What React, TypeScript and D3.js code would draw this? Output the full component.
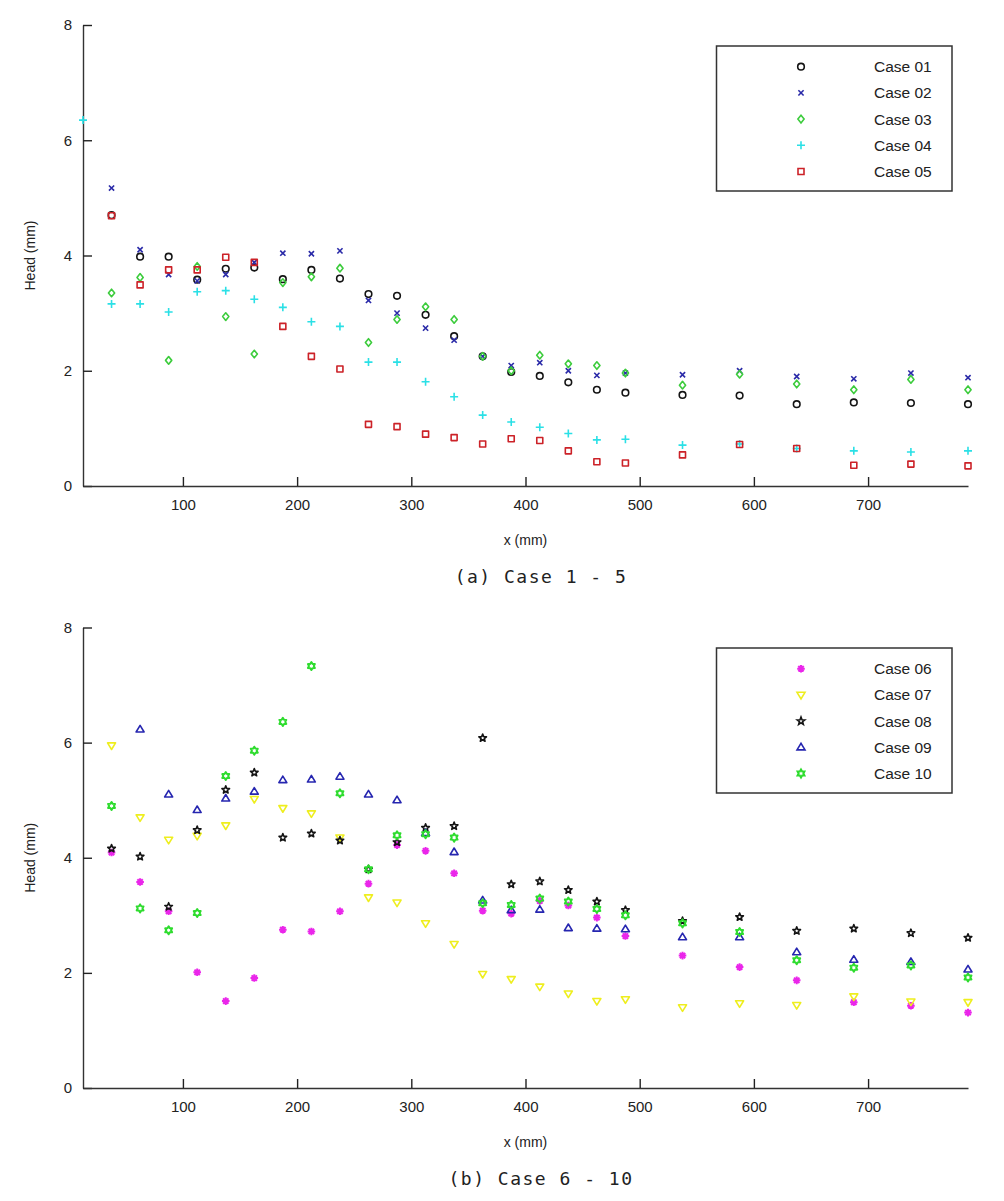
import { useEffect, useRef } from 'react'
import * as d3 from 'd3'

// x positions of the measuring points (mm)
const X_POS = [37.5, 62.5, 87.5, 112.5, 137.5, 162.5, 187.5, 212.5, 237.5, 262.5, 287.5, 312.5, 337.5, 362.5, 387.5, 412.5, 437.5, 462.5, 487.5, 537.5, 587.5, 637.5, 687.5, 737.5, 787.5]
const X_POS_04 = [12.5, ...X_POS]

const X_TICKS = [100, 200, 300, 400, 500, 600, 700]
const Y_TICKS = [0, 2, 4, 6, 8]

// (a) Case 1 - 5
const CASE_01 = [4.70, 3.98, 3.98, 3.58, 3.77, 3.79, 3.59, 3.75, 3.60, 3.33, 3.30, 2.97, 2.60, 2.25, 1.98, 1.91, 1.80, 1.67, 1.62, 1.58, 1.57, 1.42, 1.45, 1.44, 1.42]
const CASE_02 = [5.17, 4.10, 3.67, 3.56, 3.67, 3.88, 4.04, 4.03, 4.08, 3.22, 3.00, 2.74, 2.53, 2.25, 2.09, 2.14, 2.00, 1.92, 1.96, 1.93, 2.00, 1.90, 1.86, 1.96, 1.88]
const CASE_03 = [3.35, 3.62, 2.18, 3.81, 2.94, 2.29, 3.53, 3.63, 3.78, 2.49, 2.89, 3.11, 2.89, 2.25, 2.00, 2.27, 2.12, 2.09, 1.96, 1.75, 1.94, 1.77, 1.67, 1.85, 1.67]
const CASE_04 = [6.35, 3.16, 3.16, 3.02, 3.37, 3.39, 3.24, 3.10, 2.85, 2.77, 2.15, 2.15, 1.81, 1.55, 1.23, 1.11, 1.02, 0.91, 0.80, 0.81, 0.71, 0.73, 0.65, 0.61, 0.59, 0.61]
const CASE_05 = [4.69, 3.49, 3.75, 3.75, 3.97, 3.88, 2.77, 2.25, 2.03, 1.07, 1.03, 0.90, 0.84, 0.73, 0.82, 0.79, 0.61, 0.42, 0.40, 0.54, 0.72, 0.65, 0.36, 0.38, 0.35]

// (b) Case 6 - 10
const CASE_06 = [4.09, 3.58, 3.07, 2.01, 1.51, 1.91, 2.75, 2.72, 3.07, 3.55, 4.22, 4.12, 3.73, 3.08, 3.03, 3.25, 3.17, 2.96, 2.64, 2.30, 2.10, 1.87, 1.49, 1.43, 1.31]
const CASE_07 = [5.95, 4.70, 4.31, 4.38, 4.56, 5.02, 4.86, 4.77, 4.35, 3.31, 3.22, 2.86, 2.50, 1.98, 1.89, 1.76, 1.64, 1.51, 1.54, 1.40, 1.47, 1.44, 1.59, 1.50, 1.49]
const CASE_08 = [4.16, 4.02, 3.15, 4.48, 5.18, 5.48, 4.35, 4.42, 4.30, 3.80, 4.27, 4.52, 4.55, 6.08, 3.54, 3.59, 3.44, 3.24, 3.09, 2.90, 2.97, 2.73, 2.77, 2.69, 2.61]
const CASE_09 = [null, 6.23, 5.10, 4.83, 5.03, 5.15, 5.35, 5.36, 5.41, 5.10, 5.00, 4.43, 4.10, 3.26, 3.09, 3.10, 2.78, 2.77, 2.76, 2.62, 2.62, 2.36, 2.23, 2.19, 2.06]
const CASE_10 = [4.90, 3.12, 2.74, 3.04, 5.42, 5.86, 6.36, 7.33, 5.12, 3.80, 4.39, 4.41, 4.35, 3.21, 3.18, 3.29, 3.24, 3.11, 3.00, 2.86, 2.71, 2.22, 2.09, 2.13, 1.92]

type Marker = 'o' | 'x' | 'd' | '+' | 's' | '*' | 'v' | 'p' | '^' | 'h'
type Series = { name: string; xs: number[]; ys: (number | null)[]; marker: Marker; color: string }

const SERIES_A: Series[] = [
  { name: 'Case 01', xs: X_POS, ys: CASE_01, marker: 'o', color: '#141414' },
  { name: 'Case 02', xs: X_POS, ys: CASE_02, marker: 'x', color: '#2a2aa8' },
  { name: 'Case 03', xs: X_POS, ys: CASE_03, marker: 'd', color: '#3ccc3c' },
  { name: 'Case 04', xs: X_POS_04, ys: CASE_04, marker: '+', color: '#2ae0e6' },
  { name: 'Case 05', xs: X_POS, ys: CASE_05, marker: 's', color: '#cc2228' },
]

const SERIES_B: Series[] = [
  { name: 'Case 06', xs: X_POS, ys: CASE_06, marker: '*', color: '#ea26ea' },
  { name: 'Case 07', xs: X_POS, ys: CASE_07, marker: 'v', color: '#eeee1e' },
  { name: 'Case 08', xs: X_POS, ys: CASE_08, marker: 'p', color: '#141414' },
  { name: 'Case 09', xs: X_POS, ys: CASE_09, marker: '^', color: '#2626b0' },
  { name: 'Case 10', xs: X_POS, ys: CASE_10, marker: 'h', color: '#2edc2e' },
]

function starPath(points: number, outer: number, inner: number) {
  const pts: string[] = []
  for (let i = 0; i < points * 2; i++) {
    const r = i % 2 === 0 ? outer : inner
    const a = -Math.PI / 2 + (i * Math.PI) / points
    pts.push(`${(r * Math.cos(a)).toFixed(2)},${(r * Math.sin(a)).toFixed(2)}`)
  }
  return `M${pts.join('L')}Z`
}

function markerPath(m: Marker) {
  switch (m) {
    case 'o': return 'M3.3,0A3.3,3.3 0 1 1 -3.3,0A3.3,3.3 0 1 1 3.3,0Z'
    case 'x': return 'M-2.6,-2.6L2.6,2.6M-2.6,2.6L2.6,-2.6'
    case 'd': return 'M0,-3.8L3.1,0L0,3.8L-3.1,0Z'
    case '+': return 'M-4,0H4M0,-4V4'
    case 's': return 'M-3,-3H3V3H-3Z'
    case '*': return 'M-3.8,0H3.8M0,-3.8V3.8M-2.7,-2.7L2.7,2.7M-2.7,2.7L2.7,-2.7'
    case 'v': return 'M-4,-2.6L4,-2.6L0,4Z'
    case '^': return 'M-4,2.6L4,2.6L0,-4Z'
    case 'p': return starPath(5, 4, 1.7)
    case 'h': return starPath(6, 4, 2.4)
  }
}

type Panel = {
  series: Series[]
  top: number
  bottom: number
  caption: string
  legendTop: number
}

const PANELS: Panel[] = [
  { series: SERIES_A, top: 25, bottom: 486, caption: '(a) Case 1 - 5', legendTop: 46 },
  { series: SERIES_B, top: 627.5, bottom: 1088, caption: '(b) Case 6 - 10', legendTop: 648 },
]

const FONT = '"Liberation Sans", Arial, sans-serif'

export default function App() {
  const svgRef = useRef<SVGSVGElement>(null)

  useEffect(() => {
    const svg = d3.select(svgRef.current)
    svg.selectAll('*').remove()

    const left = 83
    const right = 968

    PANELS.forEach((p) => {
      const x = d3.scaleLinear().domain([12.5, 787.5]).range([left, right])
      const y = d3.scaleLinear().domain([0, 8]).range([p.bottom, p.top])
      const g = svg.append('g')

      // Y axis, ticks pointing inward
      const yAxisG = g.append('g').attr('transform', `translate(${left},0)`)
      yAxisG.call(d3.axisLeft(y).tickValues(Y_TICKS).tickSizeInner(-9).tickSizeOuter(0).tickPadding(11).tickFormat(d3.format('d')))
      yAxisG.select('.domain').style('stroke', '#333').style('stroke-width', '1.4')
      yAxisG.selectAll('.tick line').style('stroke', '#222').style('stroke-width', '1.4')
      yAxisG.selectAll('text').style('fill', '#222').style('font-size', '15px').style('font-family', FONT)

      // X axis
      const xAxisG = g.append('g').attr('transform', `translate(0,${p.bottom})`)
      xAxisG.call(d3.axisBottom(x).tickValues(X_TICKS).tickSizeInner(-9).tickSizeOuter(0).tickPadding(13).tickFormat(d3.format('d')))
      xAxisG.select('.domain').style('stroke', '#333').style('stroke-width', '1.4')
      xAxisG.selectAll('.tick line').style('stroke', '#222').style('stroke-width', '1.4')
      xAxisG.selectAll('text').style('fill', '#222').style('font-size', '15px').style('font-family', FONT)

      // Axis labels
      g.append('text')
        .attr('x', (left + right) / 2)
        .attr('y', p.bottom + 59)
        .attr('text-anchor', 'middle')
        .style('font-size', '14px')
        .style('font-family', FONT)
        .style('fill', '#222')
        .text('x (mm)')

      g.append('text')
        .attr('transform', `translate(35,${(p.top + p.bottom) / 2}) rotate(-90)`)
        .attr('text-anchor', 'middle')
        .style('font-size', '14px')
        .style('font-family', FONT)
        .style('fill', '#222')
        .text('Head (mm)')

      g.append('text')
        .attr('x', 541)
        .attr('y', p.bottom + 97)
        .attr('text-anchor', 'middle')
        .style('font-size', '18px')
        .style('letter-spacing', '1.5px')
        .style('font-family', '"DejaVu Sans Mono", "Liberation Mono", monospace')
        .style('fill', '#222')
        .text(p.caption)

      // Markers
      p.series.forEach((s) => {
        const pts = s.xs.map((xv, i) => ({ x: xv, y: s.ys[i] })).filter((d) => d.y != null)
        g.append('g')
          .selectAll('path')
          .data(pts)
          .join('path')
          .attr('transform', (d) => `translate(${x(d.x)},${y(d.y as number)})`)
          .attr('d', markerPath(s.marker))
          .style('fill', 'none')
          .style('stroke', s.color)
          .style('stroke-width', s.marker === 'h' || s.marker === '*' ? '2' : '1.6')
          .style('stroke-linejoin', 'round')
      })

      // Legend
      const lg = g.append('g')
      lg.append('rect')
        .attr('x', 716.5)
        .attr('y', p.legendTop)
        .attr('width', 235.5)
        .attr('height', 145)
        .style('fill', '#fff')
        .style('stroke', '#333')
        .style('stroke-width', '1.5')
      p.series.forEach((s, i) => {
        const cy = p.legendTop + 20.7 + i * 26.2
        lg.append('path')
          .attr('transform', `translate(801,${cy})`)
          .attr('d', markerPath(s.marker))
          .style('fill', 'none')
          .style('stroke', s.color)
          .style('stroke-width', s.marker === 'h' || s.marker === '*' ? '2' : '1.6')
        lg.append('text')
          .attr('x', 874)
          .attr('y', cy + 5.5)
          .style('font-size', '15.5px')
          .style('font-family', FONT)
          .style('fill', '#222')
          .text(s.name)
      })
    })
  }, [])

  return (
    <>
      <style>{'body{margin:0}'}</style>
      <svg ref={svgRef} width={1004} height={1201} style={{ display: 'block', background: '#fff' }} />
    </>
  )
}
